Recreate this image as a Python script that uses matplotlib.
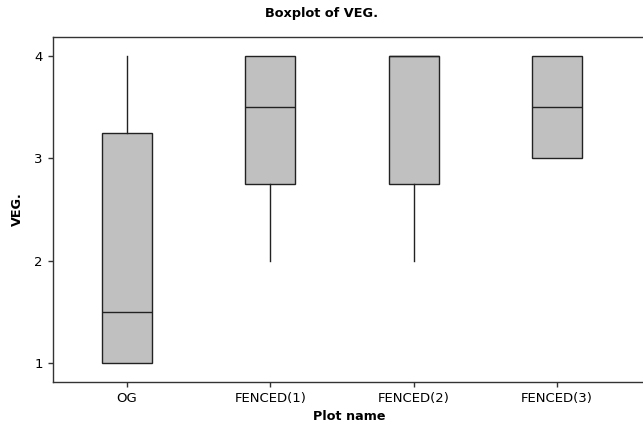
import matplotlib
matplotlib.use("Agg")
import matplotlib.pyplot as plt

categories = ["OG", "FENCED(1)", "FENCED(2)", "FENCED(3)"]
whislo = [1.0, 2.0, 2.0, 3.0]
q1 = [1.0, 2.75, 2.75, 3.0]
med = [1.5, 3.5, 4.0, 3.5]
q3 = [3.25, 4.0, 4.0, 4.0]
whishi = [4.0, 4.0, 4.0, 4.0]
yticks = [1, 2, 3, 4]

W, H = 643, 430
fig = plt.figure(figsize=(W / 100, H / 100), dpi=100)
ax = fig.add_axes([53 / W, 48 / H, 593 / W, 345 / H])

stats = []
for i, c in enumerate(categories):
    stats.append(dict(label=c, whislo=whislo[i], q1=q1[i], med=med[i],
                      q3=q3[i], whishi=whishi[i], fliers=[]))

pos = list(range(1, len(categories) + 1))
ax.bxp(stats, positions=pos, widths=0.35, patch_artist=True, showcaps=False,
       boxprops=dict(facecolor="#c0c0c0", edgecolor="#222222", linewidth=1.0),
       medianprops=dict(color="#222222", linewidth=1.0),
       whiskerprops=dict(color="#222222", linewidth=1.0))

ax.set_xlim(0.483, 0.483 + 593 / 143.3)
ax.set_ylim(0.814, 4.186)
ax.set_yticks(yticks)
ax.set_yticklabels([str(t) for t in yticks])
ax.set_xticks(pos)
ax.set_xticklabels(categories)

for s in ax.spines.values():
    s.set_color("#333333")
    s.set_linewidth(1.0)
ax.tick_params(direction="out", length=3.5, width=1, color="#333333",
               labelsize=9.5, pad=4)

fig.text(0.5, 1 - 14 / H, "Boxplot of VEG.", fontsize=9.3, fontweight="bold",
         ha="center", va="center")
ax.set_xlabel("Plot name", fontsize=9.2, fontweight="bold", labelpad=3)
ax.set_ylabel("VEG.", fontsize=9.2, fontweight="bold", labelpad=7)

fig.savefig("out.png", dpi=100)
